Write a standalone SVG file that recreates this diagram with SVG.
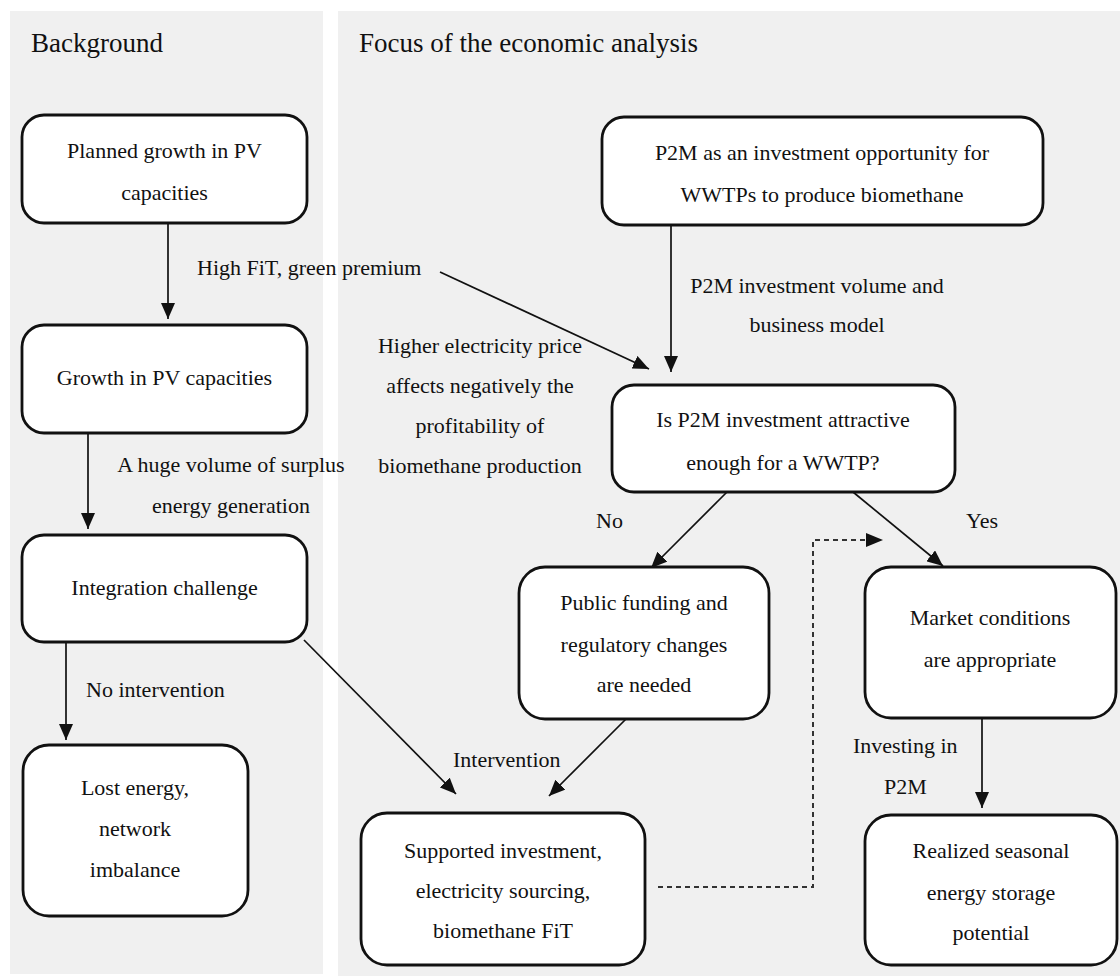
<svg xmlns="http://www.w3.org/2000/svg" width="1120" height="976" viewBox="0 0 1120 976">
  <defs>
    <marker id="arr" markerUnits="userSpaceOnUse" markerWidth="16" markerHeight="14" refX="16" refY="7" orient="auto">
      <path d="M0,0 L16,7 L0,14 z" fill="#111"/>
    </marker>
    <style>
      .panel { fill: #f0f0f0; }
      .box { fill: #ffffff; stroke: #111; stroke-width: 2.8; }
      .t { font-family: "Liberation Serif", "Times New Roman", serif; font-size: 22px; fill: #111; }
      .c { text-anchor: middle; }
      .title { font-family: "Liberation Serif", "Times New Roman", serif; font-size: 27px; fill: #111; }
      .ln { stroke: #111; stroke-width: 1.7; fill: none; }
      .dash { stroke: #333; stroke-width: 2; fill: none; stroke-dasharray: 5 4; }
    </style>
  </defs>
  <rect width="1120" height="976" fill="#ffffff"/>
  <rect class="panel" x="10" y="11" width="313" height="963"/>
  <rect class="panel" x="338" y="11" width="782" height="965"/>
  <text class="title" x="31" y="52">Background</text>
  <text class="title" x="359" y="52">Focus of the economic analysis</text>

  <g id="connectors">
    <line class="ln" x1="168" y1="224" x2="168" y2="319" marker-end="url(#arr)"/>
    <line class="ln" x1="88" y1="433" x2="88" y2="529" marker-end="url(#arr)"/>
    <line class="ln" x1="66" y1="642" x2="66" y2="740" marker-end="url(#arr)"/>
    <line class="ln" x1="304" y1="640" x2="456" y2="794" marker-end="url(#arr)"/>
    <line class="ln" x1="626" y1="719" x2="549" y2="796" marker-end="url(#arr)"/>
    <line class="ln" x1="671" y1="225" x2="671" y2="372" marker-end="url(#arr)"/>
    <line class="ln" x1="440" y1="272" x2="649" y2="369" marker-end="url(#arr)"/>
    <line class="ln" x1="727" y1="492" x2="651" y2="568" marker-end="url(#arr)"/>
    <line class="ln" x1="853" y1="492" x2="943" y2="566" marker-end="url(#arr)"/>
    <line class="ln" x1="982" y1="718" x2="982" y2="808" marker-end="url(#arr)"/>
    <path class="dash" d="M658,887 H813 V540 H868"/>
    <path d="M866,533 L883,540 L866,547 z" fill="#111"/>
  </g>

  <g id="labels">
    <text class="t" x="197" y="275">High FiT, green premium</text>
    <text class="t c" x="817" y="293">P2M investment volume and</text>
    <text class="t c" x="817" y="332">business model</text>
    <text class="t c" x="480" y="353">Higher electricity price</text>
    <text class="t c" x="480" y="393">affects negatively the</text>
    <text class="t c" x="480" y="433">profitability of</text>
    <text class="t c" x="480" y="473">biomethane production</text>
    <text class="t c" x="231" y="472">A huge volume of surplus</text>
    <text class="t c" x="231" y="513">energy generation</text>
    <text class="t" x="86" y="697">No intervention</text>
    <text class="t" x="596" y="528">No</text>
    <text class="t" x="966" y="528">Yes</text>
    <text class="t" x="453" y="767">Intervention</text>
    <text class="t" x="853" y="753">Investing in</text>
    <text class="t" x="884" y="794">P2M</text>
  </g>

  <g id="n1">
    <rect class="box" x="22" y="115" width="285" height="108" rx="22"/>
    <text class="t c" x="164.5" y="158">Planned growth in PV</text>
    <text class="t c" x="164.5" y="200">capacities</text>
  </g>
  <g id="n2">
    <rect class="box" x="22" y="325" width="285" height="108" rx="22"/>
    <text class="t c" x="164.5" y="385">Growth in PV capacities</text>
  </g>
  <g id="n3">
    <rect class="box" x="22" y="535" width="285" height="107" rx="22"/>
    <text class="t c" x="164.5" y="595">Integration challenge</text>
  </g>
  <g id="n4">
    <rect class="box" x="23" y="745" width="225" height="171" rx="26"/>
    <text class="t c" x="135" y="795">Lost energy,</text>
    <text class="t c" x="135" y="836">network</text>
    <text class="t c" x="135" y="877">imbalance</text>
  </g>
  <g id="n5">
    <rect class="box" x="602" y="117" width="441" height="108" rx="22"/>
    <text class="t c" x="822" y="160">P2M as an investment opportunity for</text>
    <text class="t c" x="822" y="202">WWTPs to produce biomethane</text>
  </g>
  <g id="n6">
    <rect class="box" x="612" y="385" width="343" height="107" rx="22"/>
    <text class="t c" x="783" y="427">Is P2M investment attractive</text>
    <text class="t c" x="783" y="470">enough for a WWTP?</text>
  </g>
  <g id="n7">
    <rect class="box" x="519" y="567" width="250" height="152" rx="26"/>
    <text class="t c" x="644" y="610">Public funding and</text>
    <text class="t c" x="644" y="652">regulatory changes</text>
    <text class="t c" x="644" y="692">are needed</text>
  </g>
  <g id="n8">
    <rect class="box" x="865" y="567" width="251" height="151" rx="26"/>
    <text class="t c" x="990" y="625">Market conditions</text>
    <text class="t c" x="990" y="667">are appropriate</text>
  </g>
  <g id="n9">
    <rect class="box" x="361" y="813" width="284" height="152" rx="26"/>
    <text class="t c" x="503" y="858">Supported investment,</text>
    <text class="t c" x="503" y="898">electricity sourcing,</text>
    <text class="t c" x="503" y="938">biomethane FiT</text>
  </g>
  <g id="n10">
    <rect class="box" x="865" y="815" width="252" height="150" rx="26"/>
    <text class="t c" x="991" y="858">Realized seasonal</text>
    <text class="t c" x="991" y="900">energy storage</text>
    <text class="t c" x="991" y="940">potential</text>
  </g>
</svg>
